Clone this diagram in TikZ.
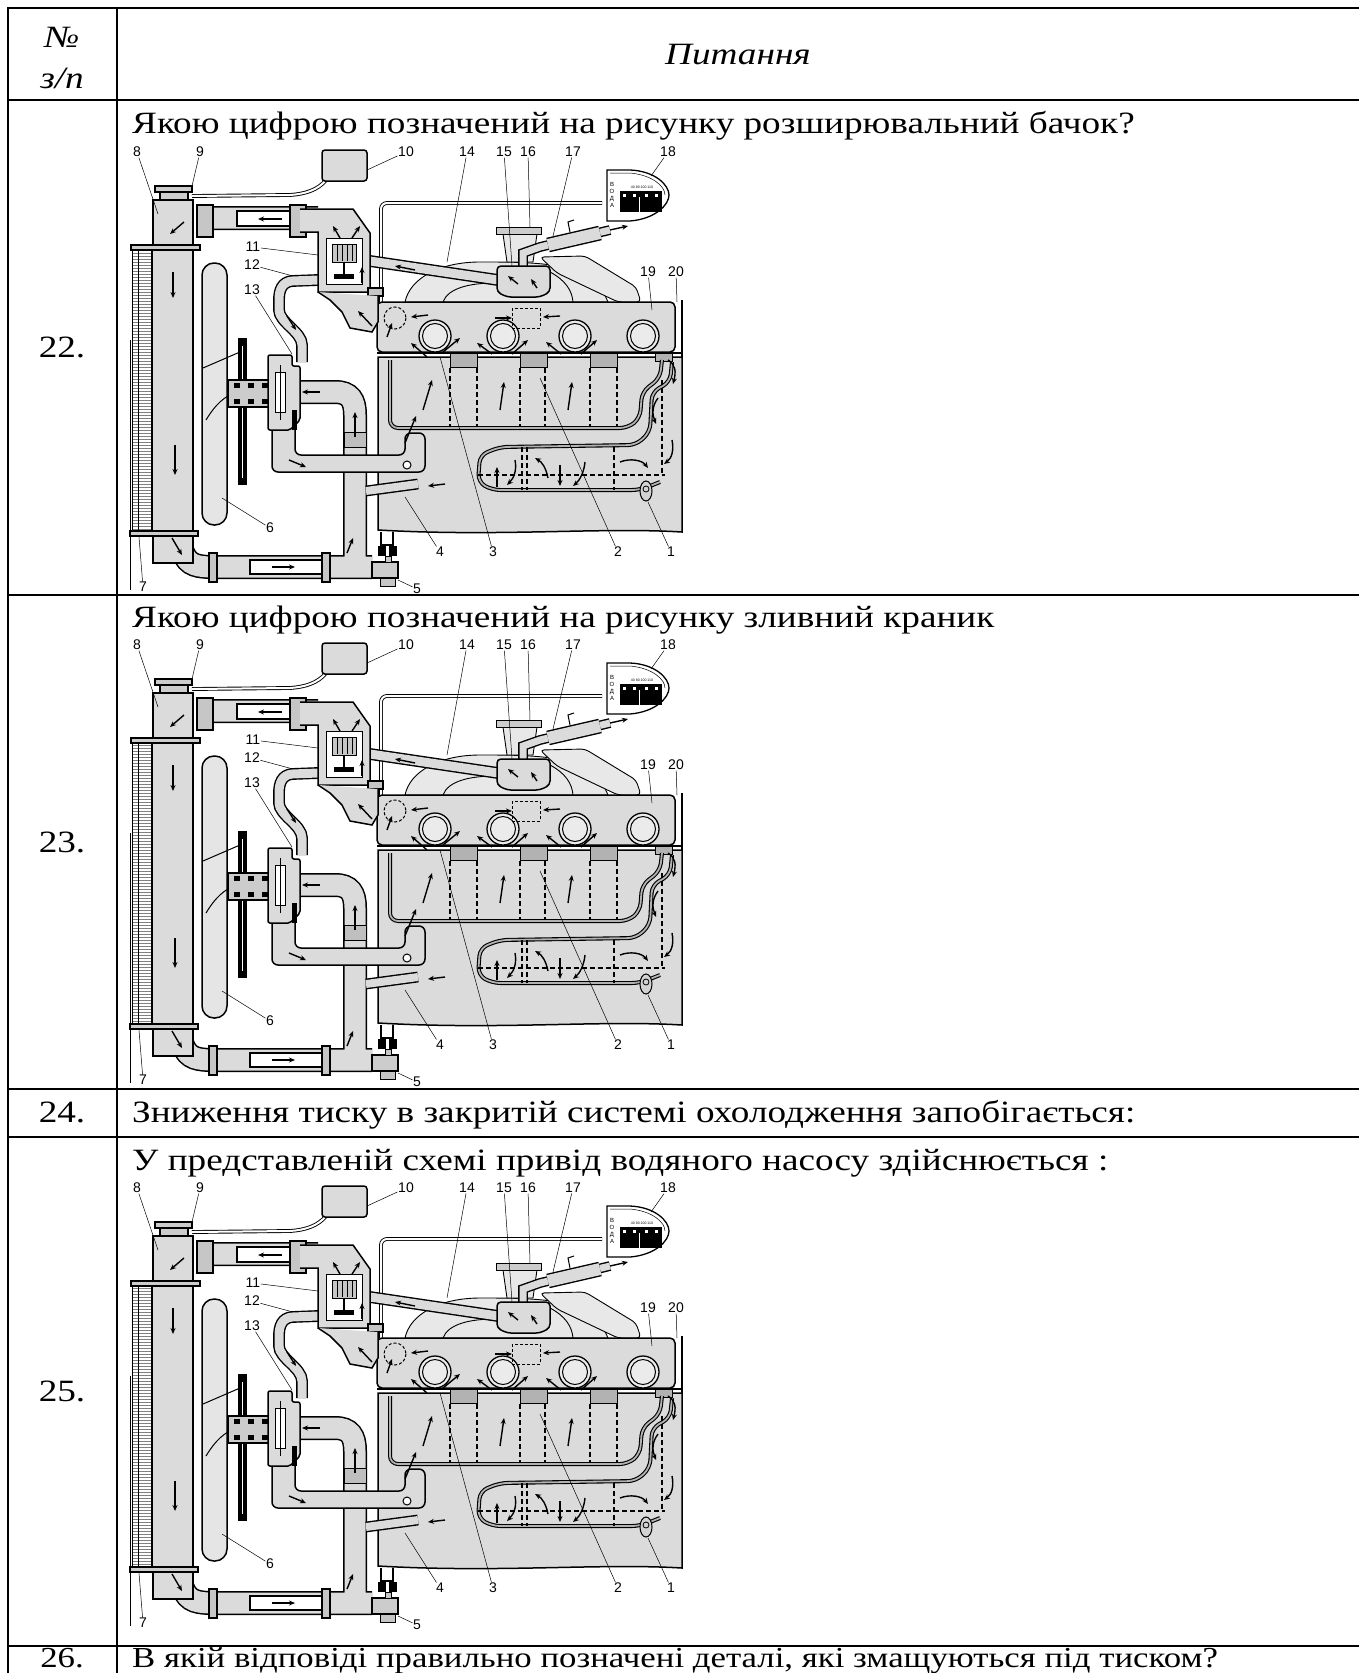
\documentclass[tikz,border=0pt]{standalone}
\usepackage{fontspec}
\setmainfont{Liberation Serif}[FakeStretch=1.2]
\newfontfamily\figfont{Liberation Sans}
\usetikzlibrary{arrows.meta,patterns}

\colorlet{coolgray}{gray!28}
\tikzset{
  jacket/.style={draw=black, line width=1.5pt, fill=coolgray},
  tube/.style={draw=black, line width=1.4pt, double=coolgray, double distance=#1},
  wallline/.style={draw=black, line width=1.1pt, double=gray!60, double distance=1.8pt},
  flow/.style={-{Stealth[length=6pt,width=5pt]}, line width=1.4pt},
  lead/.style={line width=0.5pt},
  num/.style={font=\figfont\fontsize{14}{14}\selectfont, inner sep=0.5pt},
  cyl/.style={dash pattern=on 5pt off 3pt, line width=1.1pt},
  qtext/.style={font=\fontsize{31}{38}\selectfont, anchor=base west, inner sep=0pt},
  rownum/.style={font=\fontsize{31}{38}\selectfont, inner sep=0pt},
  grid line/.style={line width=2pt},
}

\tikzset{cooling/.pic={
  % sensor wire
  \draw[line width=0.9pt, double=white, double distance=2pt, rounded corners=6] (381,302) -- (381,203) -- (602,203);
  % intake manifold
  \draw[line width=0.9pt, fill=gray!18] (405,302) .. controls (410,278) and (440,262) .. (480,262) .. controls (520,262) and (560,262) .. (590,275) .. controls (600,285) and (605,295) .. (608,302) -- cycle;
  \draw[line width=0.9pt, fill=gray!18, rounded corners=4] (540,257) -- (585,256) -- (636,287) -- (641,302) -- (618,302) -- (557,273) -- cycle;
  \draw[line width=0.9pt] (443,302) .. controls (448,288) and (470,283) .. (495,283);
  \draw[line width=0.9pt] (550,272) .. controls (565,280) and (572,290) .. (573,302);
  \draw[line width=0.9pt, fill=gray!18] (503,234) -- (507,262) -- (533,262) -- (537,234);
  \draw[line width=1pt, fill=gray!40] (496,227) rectangle (541,234);
  % pipes 14 and 17
  \draw[tube=9pt] (370,261) -- (498,280);
  \draw[tube=7pt] (523,266) -- (523,253) -- (540,247) -- (610,230);
  \draw[tube=12pt] (548,245) -- (600,233);
  \draw[flow] (610,230) -- (628,226);
  \draw[line width=1pt] (570,232) -- (568,222) -- (574,220);
  % box 15
  \draw[jacket, rounded corners=4] (497,266) -- (550,266) -- (550,292) -- (540,297) -- (507,297) -- (497,292) -- cycle;
  % cylinder head 19
  \draw[jacket, rounded corners=5] (377,302) rectangle (675,352);
  \foreach \cx in {435,503,575,643}{
    \draw[line width=1.3pt, fill=gray!16] (\cx,336) circle (16);
    \draw[line width=1pt] (\cx,336) circle (12.5);
  }
  \draw[line width=1pt, dash pattern=on 3pt off 2pt] (395,318) circle (11);
  \draw[line width=1pt, dash pattern=on 3pt off 2pt] (512,308) rectangle (540,328);
  % block and gasket
  \draw[jacket] (378,357) -- (682,357) -- (682,532) .. controls (600,527) and (500,537) .. (378,530) -- cycle;
  \draw[line width=1.5pt] (682,300) -- (682,357);
  \draw[line width=1.3pt] (377,353) -- (682,353);
  \foreach \gx in {450,520,590} \draw[fill=gray!60, line width=0.8pt] (\gx,353) rectangle ++(27,14);
  \draw[fill=gray!60, line width=0.8pt] (655,353) rectangle (672,361);
  \foreach \cx in {450,477,520,545,590,617} \draw[cyl] (\cx,368) -- (\cx,428);
  \draw[wallline, rounded corners=8] (390,360) -- (390,428) -- (628,428) -- (640,418) -- (642,392) -- (660,378) -- (662,360);
  \draw[wallline, rounded corners=8] (672,362) -- (670,382) -- (652,392) -- (650,432) -- (636,445) -- (500,447) -- (480,455) -- (478,482) -- (492,490) -- (640,490) -- (660,482);
  \draw[cyl] (478,475) -- (665,475);
  \draw[cyl] (662,380) -- (662,475);
  \foreach \cx in {522,527,614} \draw[cyl] (\cx,447) -- (\cx,490);
  % radiator
  \fill[pattern=horizontal lines, pattern color=gray] (132,250) rectangle (152,533);
  \draw[line width=1pt] (132,248) rectangle (152,535);
  \draw[line width=0.6pt] (138,250) -- (138,533);
  \draw[jacket] (152,248) rectangle (193,533);
  \draw[line width=0.6pt] (130,340) -- (130,590);
  % big hoses
  \def\bighoses{(196,218) -- (318,218)
    (292,392) -- (335,392) .. controls (350,392) and (355,400) .. (355,415) -- (355,567)
    (183,552) .. controls (188,566) and (198,567) .. (215,567) -- (372,567)}
  \draw[line width=24pt] \bighoses;
  \draw[line width=21pt, coolgray] \bighoses;
  \draw[line width=1.2pt, fill=white] (237,211) rectangle (307,226);
  \draw[line width=1.2pt, fill=white] (250,560) rectangle (323,574);
  \foreach \fx in {197,290} \draw[jacket, fill=gray!45] (\fx,205) rectangle ++(16,32);
  \foreach \fx in {209,322} \draw[jacket, fill=gray!45] (\fx,553) rectangle ++(8,29);
  \draw[fill=gray!50, line width=1pt] (344,432) rectangle (366,447);
  % radiator tanks and cap
  \draw[jacket] (153,200) rectangle (193,248);
  \draw[jacket, fill=gray!40] (131,245) rectangle (200,250);
  \draw[jacket] (153,536) rectangle (193,563);
  \draw[jacket, fill=gray!40] (130,531) rectangle (198,536);
  \draw[jacket, fill=gray!40] (160,192) rectangle (188,200);
  \draw[jacket, fill=gray!40] (155,186) rectangle (192,192);
  % fan and belt
  \draw[jacket, fill=gray!20, rounded corners=12] (202,263) rectangle (227,525);
  \draw[line width=1pt] (203,368) -- (240,352);
  \draw[line width=1pt] (206,420) .. controls (215,405) and (225,395) .. (238,392);
  \fill (238,338) rectangle (247,485);
  \draw[white, line width=1pt] (242.5,346) -- (242.5,478);
  % channel from pump to block
  \draw[jacket, rounded corners=6] (272,428) -- (272,472) -- (425,472) -- (425,433) -- (405,433) -- (405,455) -- (295,455) -- (295,428);
  \draw[line width=1pt, fill=white] (407,465) circle (4);
  % water pump 13
  \draw[jacket, fill=gray!40] (228,380) rectangle (270,407);
  \foreach \sx in {234,248,262}{
    \fill (\sx,383) rectangle ++(6,5);
    \fill (\sx,399) rectangle ++(6,5);
  }
  \draw[jacket, rounded corners=2] (268,355) -- (292,355) -- (292,366) -- (300,366) -- (300,420) -- (290,430) -- (268,430) -- cycle;
  \draw[line width=1pt, fill=white] (275,372) rectangle (285,412);
  \draw[line width=1pt] (280,365) -- (280,420);
  \fill (292,410) rectangle (297,430);
  % bypass hose 12
  \draw[tube=9pt] (318,280) -- (292,281) .. controls (282,282) and (279,290) .. (279,300) -- (279,310) .. controls (279,322) and (302,332) .. (302,345) -- (302,362);
  % thermostat 11
  \draw[jacket] (300,209) -- (353,209) -- (370,233) -- (370,292) -- (318,292) -- (318,232) -- (300,232);
  \draw[line width=1pt, fill=white] (326,238) rectangle (362,284);
  \draw[line width=1pt, fill=gray!45] (332,244) rectangle (356,262);
  \foreach \vx in {337,342,347,352} \draw[line width=0.6pt] (\vx,245) -- (\vx,261);
  \draw[line width=2pt] (344,262) -- (344,275);
  \fill (334,274) rectangle (354,279);
  \draw[jacket, fill=gray!45] (368,288) rectangle (383,296);
  \draw[jacket] (318,292) -- (330,300) -- (342,312) -- (350,328) -- (372,332) -- (378,322) -- (378,296);
  % drain cock 5 and pipe 4
  \draw[jacket, fill=gray!40] (372,562) rectangle (398,578);
  \draw[line width=1.2pt] (381,532) -- (381,545) -- (393,545) -- (393,532);
  \fill (378,546) rectangle (386,556);
  \fill (389,546) rectangle (397,556);
  \draw[line width=1pt, fill=gray!45] (385,556) rectangle (391,562);
  \draw[line width=1pt, fill=gray!45] (380,578) rectangle (395,586);
  \draw[tube=8pt] (366,491) -- (418,484);
  % sensor 1
  \draw[line width=1pt, fill=gray!35] (646,491) ellipse (6 and 10);
  \draw[line width=0.8pt] (646,489) circle (3);
  % expansion tank 10
  \draw[line width=0.9pt, double=white, double distance=2pt] (326,180) .. controls (318,190) and (305,194) .. (290,195) -- (192,196);
  \draw[jacket, rounded corners=3] (322,150) rectangle (367,181);
  % gauge 18
  \draw[line width=1.3pt, fill=white] (607,170) -- (607,221) -- (630,221) .. controls (655,219) and (669,205) .. (669,195) .. controls (669,185) and (655,171) .. (630,170) -- cycle;
  \draw[line width=0.5pt] (610,173) -- (630,173) .. controls (652,175) and (665,186) .. (665,195);
  \node[font=\figfont\fontsize{6}{7}\selectfont, align=center, inner sep=0pt] (-voda) at (612,195) {В\\О\\Д\\А};
  \node[font=\figfont\fontsize{3.5}{4}\selectfont, inner sep=0pt] (-scale) at (642,187) {40 80 100 110};
  \fill (620,191) rectangle (662,212);
  \foreach \mx in {623,633,645,655} \fill[white] (\mx,194) rectangle ++(3,3);
  \draw[white, line width=0.8pt] (639,197) -- (639,212);
  % flow arrows
  \draw[flow] (184,222) -- (170,234);
  \draw[flow] (173,272) -- (173,298);
  \draw[flow] (175,445) -- (175,475);
  \draw[flow] (172,538) -- (182,555);
  \draw[flow] (282,219) -- (258,219);
  \draw[flow] (272,567) -- (295,567);
  \draw[flow] (355,437) -- (355,412);
  \draw[flow] (320,392) -- (302,392);
  \draw[flow] (347,553) -- (353,538);
  \draw[flow] (289,460) -- (306,467);
  \draw[flow] (405,443) -- (416,416);
  \draw[flow] (287,316) -- (296,330);
  \draw[flow] (340,238) -- (333,226);
  \draw[flow] (352,238) -- (360,226);
  \draw[flow] (362,283) -- (362,267);
  \draw[flow] (372,326) -- (358,311);
  \draw[flow] (415,270) -- (395,266);
  \draw[flow] (518,284) -- (508,276);
  \draw[flow] (537,288) -- (531,279);
  \draw[flow] (428,315) -- (411,317);
  \draw[flow] (495,318) -- (512,318);
  \draw[flow] (560,316) -- (543,317);
  \draw[flow] (387,337) -- (392,323);
  \draw[flow] (427,357) -- (411,343);
  \draw[flow] (443,352) -- (460,338);
  \draw[flow] (492,354) -- (477,343);
  \draw[flow] (512,354) -- (528,340);
  \draw[flow] (561,354) -- (546,342);
  \draw[flow] (581,354) -- (597,340);
  \draw[flow] (423,410) -- (432,380);
  \draw[flow] (500,410) -- (504,382);
  \draw[flow] (568,410) -- (572,382);
  \draw[flow] (668,360) .. controls (676,365) and (676,372) .. (673,384);
  \draw[flow] (658,398) .. controls (652,406) and (652,414) .. (656,424);
  \draw[flow] (672,440) .. controls (674,450) and (672,458) .. (664,464);
  \draw[flow] (620,462) .. controls (630,458) and (642,460) .. (648,468);
  \draw[flow] (497,487) -- (497,467);
  \draw[flow] (515,460) .. controls (517,470) and (514,478) .. (507,485);
  \draw[flow] (548,478) .. controls (546,468) and (542,462) .. (535,458);
  \draw[flow] (560,465) -- (560,486);
  \draw[flow] (585,462) .. controls (584,472) and (580,480) .. (573,486);
  \draw[flow] (445,484) -- (428,486);
  % part numbers
  \foreach \n/\lx/\ly/\tx/\ty in {8/137/152/158/214, 9/200/152/192/186, 10/406/152/367/170,
      14/467/152/447/262, 15/504/152/512/266, 16/528/152/530/227, 17/573/152/553/236,
      18/668/152/651/176, 11/253/247/318/255, 12/252/265/293/276, 13/252/290/292/354,
      19/648/272/652/310, 20/676/272/677/302, 6/270/528/222/498, 4/440/552/405/497,
      3/493/552/440/357, 2/618/552/540/378, 1/671/552/648/502, 7/143/587/139/537,
      5/417/589/398/580}{
    \node[num] (-n\n) at (\lx,\ly) {\n};
    \coordinate (-t\n) at (\tx,\ty);
    \draw[lead] (-n\n) -- (-t\n);
  }
}}

\begin{document}
\begin{tikzpicture}[x=1pt, y=-1pt]
  \useasboundingbox (0,0) rectangle (1359,1673);
  \fill[white] (0,0) rectangle (1359,1673);
  % table rules
  \foreach \ry in {8,100,595,1089,1137,1646} \draw[grid line] (8,\ry) -- (1359,\ry);
  \draw[grid line] (8,7) -- (8,1673);
  \draw[grid line] (117,7) -- (117,1673);
  % header
  \node[rownum, font=\itshape\fontsize{31}{38}\selectfont] (hnum) at (62,37) {№};
  \node[rownum, font=\itshape\fontsize{31}{38}\selectfont] (hzp) at (62,78) {з/п};
  \node[rownum, font=\itshape\fontsize{31}{38}\selectfont] (hq) at (738,55) {Питання};
  % rows
  \node[rownum] (r22) at (62,347) {22.};
  \node[qtext] (q22) at (132,133) {Якою цифрою позначений на рисунку розширювальний бачок?};
  \pic (fig22) at (0,0) {cooling};
  \node[rownum] (r23) at (62,842) {23.};
  \node[qtext] (q23) at (132,627) {Якою цифрою позначений на рисунку зливний краник};
  \pic (fig23) at (0,493) {cooling};
  \node[rownum] (r24) at (62,1112) {24.};
  \node[qtext] (q24) at (132,1122) {Зниження тиску в закритій системі охолодження запобігається:};
  \node[rownum] (r25) at (62,1391) {25.};
  \node[qtext] (q25) at (132,1170) {У представленій схемі привід водяного насосу здійснюється :};
  \pic (fig25) at (0,1036) {cooling};
  \node[rownum, font=\fontsize{29}{34}\selectfont] (r26) at (62,1658) {26.};
  \node[qtext, font=\fontsize{29}{34}\selectfont] (q26) at (132,1667) {В якій відповіді правильно позначені деталі, які змащуються під тиском?};
\end{tikzpicture}
\end{document}
